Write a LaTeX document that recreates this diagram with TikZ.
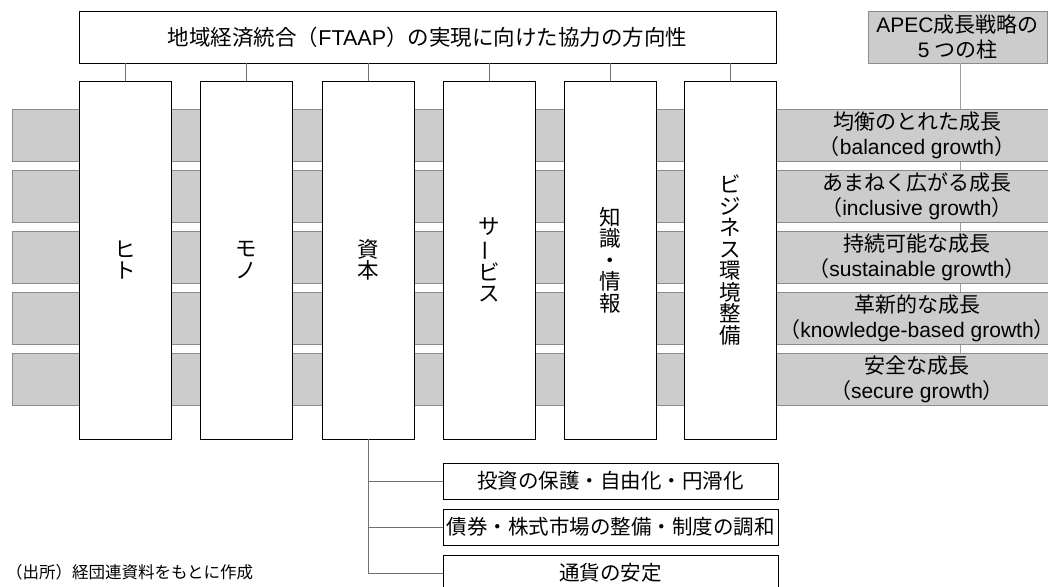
\documentclass[tikz,border=0pt]{standalone}
\usepackage{fontspec}
\usepackage{graphicx}
\setmainfont{Noto Sans CJK JP}
\newfontfamily\lat{Liberation Sans}
\definecolor{barfill}{HTML}{CCCCCC}
\definecolor{barline}{HTML}{8C8C8C}
\definecolor{connc}{HTML}{707070}
\definecolor{apecline}{HTML}{A0A0A0}
\tikzset{
  base/.style={inner sep=0pt, outer sep=0pt, font=\fontsize{21}{25}\selectfont, align=center},
  wbox/.style={base, draw=black, fill=white, line width=0.8pt},
  colbox/.style={wbox, minimum width=92pt, minimum height=358pt, font=\fontsize{21.5}{21.5}\selectfont},
  barbox/.style={base, draw=barline, fill=barfill, line width=0.8pt, minimum width=1048pt, minimum height=52pt},
  lbl/.style={base},
  conn/.style={draw=connc, line width=0.9pt},
  subbox/.style={wbox, minimum width=335pt, minimum height=36pt, font=\fontsize{20.5}{25}\selectfont}
}
\begin{document}
\begin{tikzpicture}[x=1pt,y=-1pt]
\useasboundingbox (0,0) rectangle (1048,586);
\clip (0,0) rectangle (1048,586);
% APEC box and its line (behind bars)
\node[base, draw=barline, fill=barfill, line width=0.8pt, minimum width=179pt, minimum height=52pt] (apec) at (957.5,37) {{\lat APEC}成長戦略の\\{\lat 5} つの柱};
\coordinate (apecend) at (960,353);
\draw[draw=apecline, line width=0.9pt] (apec.south -| apecend) -- (apecend);
% bars
\node[barbox] (b1) at (536,135) {};
\node[barbox] (b2) at (536,196) {};
\node[barbox] (b3) at (536,257) {};
\node[barbox] (b4) at (536,318) {};
\node[barbox] (b5) at (536,379.5) {};
\node[lbl] (l1) at (917,135) {均衡のとれた成長\\（{\lat balanced growth}）};
\node[lbl] (l2) at (917,196) {あまねく広がる成長\\（{\lat inclusive growth}）};
\node[lbl] (l3) at (917,257) {持続可能な成長\\（{\lat sustainable growth}）};
\node[lbl] (l4) at (917,318) {革新的な成長\\（{\lat knowledge-based growth}）};
\node[lbl] (l5) at (917,379.5) {安全な成長\\（{\lat secure growth}）};
% top box
\node[wbox, minimum width=697pt, minimum height=52pt, font=\fontsize{21.5}{25}\selectfont] (top) at (427.5,37) {地域経済統合（{\lat FTAAP}）の実現に向けた協力の方向性};
% columns
\node[colbox] (c1) at (125,260) {ヒ\\ト};
\node[colbox] (c2) at (246,260) {モ\\ノ};
\node[colbox] (c3) at (368,260) {資\\本};
\node[colbox] (c4) at (489,260) {サ\\\rotatebox[origin=c]{90}{ー}\\ビ\\ス};
\node[colbox] (c5) at (610,260) {知\\識\\・\\情\\報};
\node[colbox] (c6) at (730.5,260) {ビ\\ジ\\ネ\\ス\\環\\境\\整\\備};
\foreach \c in {c1,c2,c3,c4,c5,c6}{
  \draw[conn] (top.south -| \c) -- (\c.north);
}
% sub boxes for capital
\node[subbox] (s1) at (610.5,481) {投資の保護・自由化・円滑化};
\node[subbox] (s2) at (610.5,527) {債券・株式市場の整備・制度の調和};
\node[subbox] (s3) at (610.5,573) {通貨の安定};
\draw[conn] (c3.south) |- (s3.west);
\draw[conn] (c3.south |- s1.west) -- (s1.west);
\draw[conn] (c3.south |- s2.west) -- (s2.west);
% source
\node[base, anchor=west, font=\fontsize{16.5}{18}\selectfont] (src) at (6,572) {（出所）経団連資料をもとに作成};
\end{tikzpicture}
\end{document}
